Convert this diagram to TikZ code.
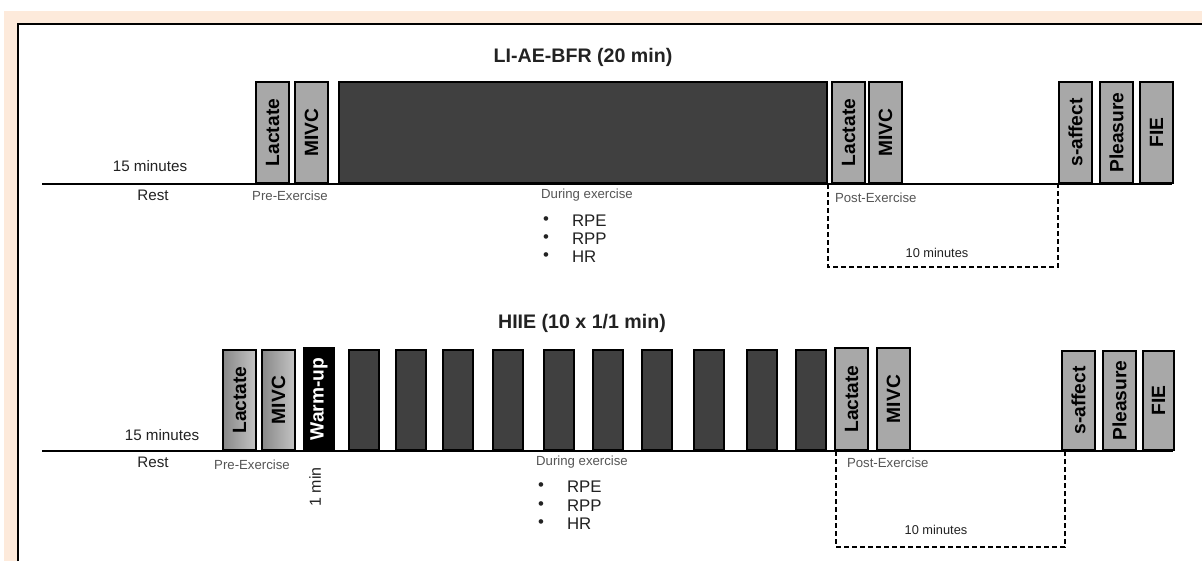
\documentclass[tikz,border=0pt]{standalone}
\usepackage{fontspec}
\setmainfont{Liberation Sans}
\definecolor{peach}{HTML}{FDEADB}
\definecolor{boxgray}{HTML}{A8A8A8}
\definecolor{darkbox}{HTML}{404040}
\definecolor{txtgray}{HTML}{555555}
\definecolor{txtdark}{HTML}{222222}
\definecolor{gradL}{HTML}{888888}
\definecolor{gradR}{HTML}{C4C4C4}
\begin{document}
\begin{tikzpicture}[x=0.5pt,y=-0.5pt,
  box/.style={draw=black, line width=1pt, anchor=south west, inner sep=0pt,
    font=\fontsize{9.6}{11}\selectfont\bfseries, minimum width=16.5pt, minimum height=50.5pt},
  lbox/.style={box, fill=boxgray},
  gbox/.style={box, left color=gradL, right color=gradR, minimum height=50pt},
  dbox/.style={box, fill=darkbox},
  bar/.style={dbox, minimum width=15pt, minimum height=50pt},
  baseline/.style={line width=1.1pt},
  bracket/.style={line width=0.9pt, dash pattern=on 2.5pt off 1.5pt},
  ttl/.style={font=\fontsize{9.8}{12}\selectfont\bfseries, text=txtdark},
  lab/.style={font=\fontsize{7.6}{9}\selectfont, text=txtdark},
  glab/.style={font=\fontsize{6.6}{8}\selectfont, text=txtgray},
  blab/.style={font=\fontsize{8.4}{10}\selectfont, text=txtdark},
  mlab/.style={font=\fontsize{6.4}{8}\selectfont, text=txtdark}
]
\useasboundingbox (0,0) rectangle (1202,561);
\fill[peach] (4,11) rectangle (1202,561);
\fill[white] (18,24) rectangle (1202,561);
\draw[line width=1pt] (18,561) -- (18,24) -- (1202,24);

% ---------------- top protocol ----------------
\coordinate (a0) at (42,184);
\coordinate (a1) at (1172,184);
\draw[baseline] (a0) -- (a1);
\node[ttl] (t1) at (583,57) {LI-AE-BFR (20 min)};
\node[lbox] (aL1) at (255,184) {\rotatebox{90}{Lactate}};
\node[lbox] (aM1) at (294,184) {\rotatebox{90}{MIVC}};
\node[dbox, minimum width=244pt] (abig) at (338,184) {};
\node[lbox] (aL2) at (831,184) {\rotatebox{90}{Lactate}};
\node[lbox] (aM2) at (868,184) {\rotatebox{90}{MIVC}};
\node[lbox] (aS) at (1058,184) {\rotatebox{90}{s-affect}};
\node[lbox] (aP) at (1099,184) {\rotatebox{90}{Pleasure}};
\node[lbox] (aF) at (1139,184) {\rotatebox{90}{FIE}};
\draw[bracket] (abig.south east) -- ++(0,83) -| (aS.south west);
\node[lab] (a15) at (150,166) {15 minutes};
\node[lab] (arest) at (153,195) {Rest};
\node[glab] (apre) at (290,196) {Pre-Exercise};
\node[glab] (adur) at (587,195) {During exercise};
\node[blab] (ab1) at (546,221) {•};
\node[blab] (ab2) at (546,239) {•};
\node[blab] (ab3) at (546,257) {•};
\node[blab, anchor=west] (ar1) at (565,221) {RPE};
\node[blab, anchor=west] (ar2) at (565,239) {RPP};
\node[blab, anchor=west] (ar3) at (565,257) {HR};
\node[glab, anchor=west] (apost) at (828,198) {Post-Exercise};
\node[mlab] (a10) at (937,253) {10 minutes};

% ---------------- bottom protocol ----------------
\coordinate (b0) at (42,451);
\coordinate (b1) at (1173,451);
\draw[baseline] (b0) -- (b1);
\node[ttl] (t2) at (582,323) {HIIE (10 x 1/1 min)};
\node[gbox] (bL1) at (222,451) {\rotatebox{90}{Lactate}};
\node[gbox] (bM1) at (261,451) {\rotatebox{90}{MIVC}};
\node[box, fill=black, text=white, minimum width=15pt, minimum height=51pt] (bW) at (303,451) {\rotatebox{90}{Warm-up}};
\foreach \x [count=\i] in {348,395,442,492,543,592,641,693,746,795}
  \node[bar] (bb\i) at (\x,451) {};
\node[lbox, minimum height=51pt] (bL2) at (834,451) {\rotatebox{90}{Lactate}};
\node[lbox, minimum height=51pt] (bM2) at (876,451) {\rotatebox{90}{MIVC}};
\node[lbox, minimum height=49.5pt] (bS) at (1061,451) {\rotatebox{90}{s-affect}};
\node[lbox, minimum height=49.5pt] (bP) at (1102,451) {\rotatebox{90}{Pleasure}};
\node[lbox, minimum height=49.5pt, minimum width=15.5pt] (bF) at (1142,451) {\rotatebox{90}{FIE}};
\coordinate (bd0) at (836,451);
\coordinate (bd1) at (1065,451);
\draw[bracket] (bd0) -- ++(0,96) -| (bd1);
\node[lab] (b15) at (162,435) {15 minutes};
\node[lab] (brest) at (153,462) {Rest};
\node[glab] (bpre) at (252,465) {Pre-Exercise};
\node[lab, font=\fontsize{8}{9}\selectfont, rotate=90] (b1min) at (315,487) {1 min};
\node[glab] (bdur) at (582,462) {During exercise};
\node[blab] (bb1t) at (541,487) {•};
\node[blab] (bb2t) at (541,506) {•};
\node[blab] (bb3t) at (541,524) {•};
\node[blab, anchor=west] (br1) at (560,487) {RPE};
\node[blab, anchor=west] (br2) at (560,506) {RPP};
\node[blab, anchor=west] (br3) at (560,524) {HR};
\node[glab, anchor=west] (bpost) at (840,463) {Post-Exercise};
\node[mlab] (b10) at (936,530) {10 minutes};
\end{tikzpicture}
\end{document}
